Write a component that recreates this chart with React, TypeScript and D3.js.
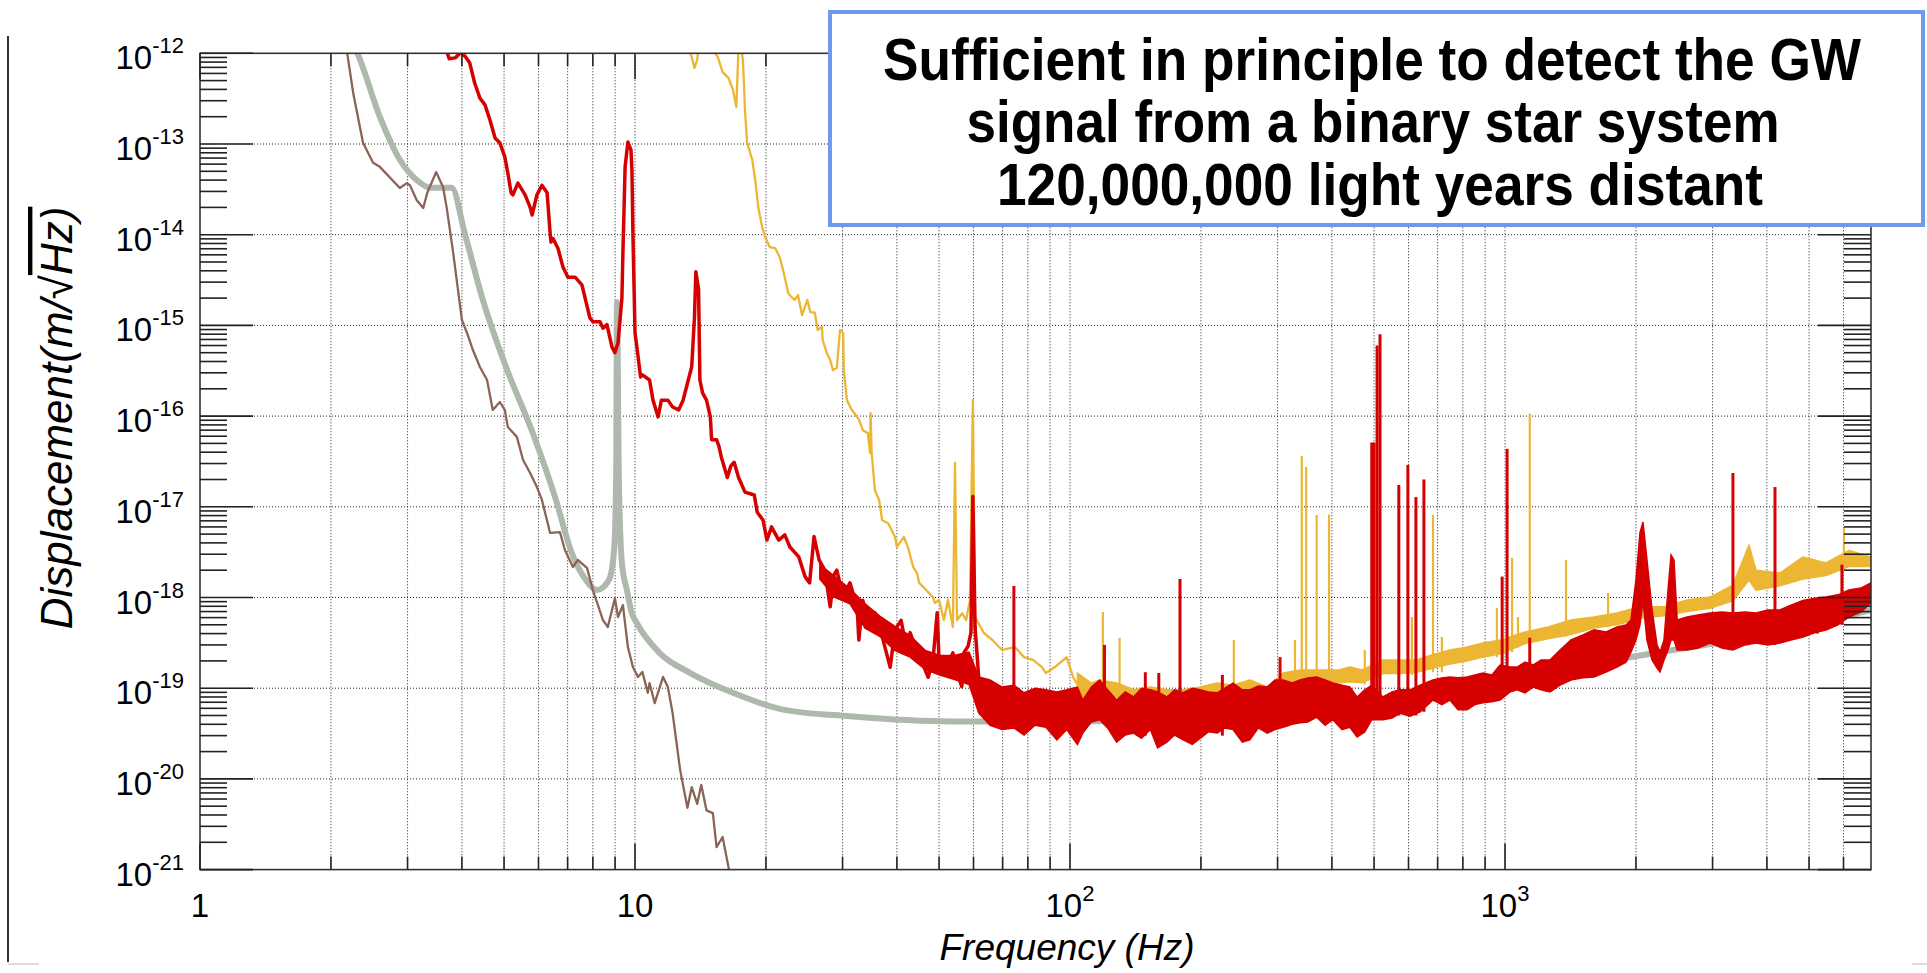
import React from "react";
import * as d3 from "d3";

const width = 1927;
const height = 973;
const plot = { left: 200, right: 1871, top: 53.3, bottom: 869.6 };
const freqDomain = [1, 6940];
const dispDomain = [1e-21, 1e-12];
const font = "'Liberation Sans', Arial, Helvetica, sans-serif";

// [frequency (Hz), displacement (m/sqrt(Hz))]
const designCurve = [
  [2.2, 1.5e-12], [2.3, 1.0e-12], [2.59, 2.0e-13], [2.88, 6.7e-14], [3.15, 4.0e-14], [3.38, 3.3e-14],
  [3.79, 3.3e-14], [4.06, 1.04e-14], [4.47, 1.9e-15], [5.05, 3.5e-16], [5.82, 6.5e-17], [6.58, 1.19e-17],
  [7.12, 3.3e-18], [7.71, 1.56e-18], [8.18, 1.21e-18], [8.71, 1.56e-18], [8.95, 3.3e-18], [9.05, 2.0e-17],
  [9.09, 1.8e-15], [9.18, 2.0e-17], [9.33, 2.4e-18], [9.58, 1.21e-18], [9.83, 6.75e-19], [10.1, 5.2e-19],
  [11.4, 2.44e-19], [13.4, 1.47e-19], [16.8, 8.9e-20], [21.9, 5.8e-20], [31.2, 4.9e-20], [53.0, 4.3e-20],
  [88.0, 4.3e-20], [199, 4.7e-20], [505, 6.85e-20], [788, 9.5e-20], [1948, 2.2e-19], [4842, 4.73e-19],
  [6940, 7.3e-19],
];

const seismicCurve = [
  [2.1, 1.5e-12], [2.18, 1.0e-12], [2.25, 3.65e-13], [2.37, 1.03e-13], [2.5, 6.2e-14], [2.59, 5.6e-14],
  [2.88, 3.27e-14], [2.99, 3.7e-14], [3.04, 3.5e-14], [3.15, 2.4e-14], [3.26, 1.97e-14], [3.33, 2.9e-14],
  [3.49, 4.9e-14], [3.62, 3.36e-14], [3.69, 2.0e-14], [3.82, 6.3e-15], [3.9, 2.93e-15], [4.0, 1.15e-15],
  [4.11, 8.25e-16], [4.24, 5.35e-16], [4.4, 3.48e-16], [4.57, 2.5e-16], [4.71, 1.17e-16], [4.89, 1.43e-16],
  [5.02, 1.17e-16], [5.1, 7.6e-17], [5.35, 5.9e-17], [5.53, 3.28e-17], [5.74, 2.36e-17], [5.95, 1.65e-17],
  [6.11, 1.19e-17], [6.38, 5.15e-18], [6.72, 5.27e-18], [6.9, 3.34e-18], [7.2, 2.17e-18], [7.39, 2.6e-18],
  [7.76, 2.11e-18], [8.0, 1.21e-18], [8.44, 5.63e-19], [8.66, 4.73e-19], [8.99, 9.8e-19], [9.14, 6.1e-19],
  [9.38, 8.25e-19], [9.63, 2.84e-19], [9.89, 1.71e-19], [10.16, 1.33e-19], [10.4, 1.51e-19], [10.7, 8.9e-20],
  [10.8, 1.14e-19], [11.1, 6.85e-20], [11.6, 1.33e-19], [11.9, 1.03e-19], [12.2, 5.35e-20], [12.7, 1.25e-20],
  [13.2, 4.8e-21], [13.5, 8.1e-21], [13.9, 5.3e-21], [14.2, 8.6e-21], [14.6, 4.5e-21], [15.1, 4.2e-21],
  [15.4, 1.77e-21], [15.9, 2.29e-21], [16.4, 1.07e-21], [16.7, 7.8e-22],
];

const redLine = [
  [3.66, 1.2e-12], [3.74, 8.7e-13], [3.86, 8.9e-13], [3.98, 1.03e-12], [4.08, 9.1e-13], [4.17, 7.8e-13],
  [4.28, 4.7e-13], [4.4, 3.2e-13], [4.52, 2.7e-13], [4.64, 1.84e-13], [4.77, 1.16e-13], [4.89, 1.03e-13],
  [5.02, 7.2e-14], [5.1, 4.8e-14], [5.19, 2.9e-14], [5.24, 2.75e-14], [5.38, 3.7e-14], [5.59, 2.75e-14],
  [5.74, 2.0e-14], [5.8, 1.65e-14], [5.95, 2.75e-14], [6.11, 3.5e-14], [6.28, 2.9e-14], [6.38, 1.05e-14],
  [6.41, 8.3e-15], [6.48, 9.1e-15], [6.65, 7.1e-15], [6.83, 4.4e-15], [7.01, 3.4e-15], [7.28, 3.4e-15],
  [7.55, 2.8e-15], [7.88, 1.2e-15], [8.0, 1.1e-15], [8.31, 1.1e-15], [8.44, 9.3e-16], [8.62, 1.02e-15],
  [8.85, 5.8e-16], [8.99, 5.0e-16], [9.14, 6.4e-16], [9.33, 2.0e-15], [9.38, 6.3e-15], [9.49, 5.6e-14],
  [9.63, 1.05e-13], [9.79, 8.6e-14], [9.84, 5.1e-14], [9.89, 1.05e-14], [10.0, 8.3e-16], [10.1, 5.8e-16],
  [10.3, 2.7e-16], [10.4, 2.85e-16], [10.8, 2.5e-16], [11.0, 1.5e-16], [11.3, 9.8e-17], [11.5, 1.5e-16],
  [11.9, 1.5e-16], [12.2, 1.26e-16], [12.6, 1.17e-16], [12.9, 1.5e-16], [13.2, 2.3e-16], [13.5, 3.5e-16],
  [13.7, 1.23e-15], [13.8, 3.9e-15], [14.0, 2.5e-15], [14.1, 2.5e-16], [14.3, 1.8e-16], [14.6, 1.5e-16],
  [14.9, 9.8e-17], [15.0, 5.5e-17], [15.4, 5.5e-17], [15.6, 4.6e-17], [15.8, 3.5e-17], [16.3, 2.1e-17],
  [16.6, 2.8e-17], [16.9, 3.1e-17], [17.3, 2.1e-17], [17.9, 1.45e-17], [18.8, 1.35e-17], [19.1, 8.7e-18],
  [19.7, 7.1e-18], [20.1, 4.3e-18], [20.6, 6.0e-18], [21.4, 4.3e-18], [22.1, 4.9e-18], [22.7, 3.6e-18],
  [23.8, 2.8e-18], [24.6, 1.7e-18], [25.2, 1.45e-18], [25.8, 4.7e-18], [26.5, 2.6e-18], [27.3, 2.0e-18],
  [28.1, 7.9e-19], [28.7, 1.8e-18], [29.1, 2.0e-18], [30.1, 1.02e-18], [31.2, 1.45e-18], [32.4, 7.9e-19],
  [32.7, 3.4e-19], [33.4, 9.3e-19], [34.3, 5.6e-19], [35.6, 6.8e-19], [36.8, 4.1e-19], [38.6, 1.7e-19],
  [39.6, 4.4e-19], [40.9, 5.6e-19], [42.0, 2.9e-19], [42.9, 4.1e-19], [44.5, 2.45e-19], [46.2, 1.7e-19],
  [47.2, 1.32e-19], [48.4, 2.0e-19], [49.5, 6.8e-19], [50.0, 2.0e-19], [51.9, 1.7e-19], [53.8, 2.45e-19],
  [55.0, 1.48e-19], [56.4, 1.04e-19], [57.0, 2.45e-19], [58.3, 2.9e-19], [59.2, 4.1e-19], [59.8, 1.3e-17],
  [60.5, 4.7e-19], [61.8, 1.15e-19],
];

// [frequency, upper edge, lower edge] of the noisy part of the red trace
const redBand = [
  [26.6, 2.3e-18, 1.6e-18], [28.8, 1.7e-18, 1.0e-18], [31.2, 1.25e-18, 8.5e-19],
  [33.8, 8.5e-19, 4.6e-19], [36.6, 6.2e-19, 3.7e-19], [39.6, 4.8e-19, 2.6e-19], [42.9, 3.8e-19, 2.2e-19],
  [46.5, 2.6e-19, 1.6e-19], [50.2, 2.3e-19, 1.4e-19], [54.1, 2.3e-19, 1.25e-19], [58.6, 2.5e-19, 1.1e-19],
  [61.7, 1.33e-19, 5.3e-20], [65.5, 1.23e-19, 3.9e-20], [69.8, 1.03e-19, 3.5e-20], [74.3, 1.08e-19, 3.65e-20],
  [78.4, 8.9e-20, 3.05e-20], [83.1, 1.0e-19, 3.9e-20], [88.0, 9.6e-20, 3.7e-20], [93.3, 9.1e-20, 2.7e-20],
  [98.3, 9.6e-20, 3.5e-20], [104, 1.03e-19, 2.4e-20], [107, 7.4e-20, 3.2e-20], [112, 1.03e-19, 4.25e-20],
  [117, 1.23e-19, 4.5e-20], [122, 9.6e-20, 3.65e-20], [128, 7.4e-20, 2.55e-20], [134, 9.1e-20, 3.05e-20],
  [140, 8.0e-20, 3.2e-20], [146, 1.0e-19, 2.8e-20], [153, 9.6e-20, 3.5e-20], [159, 9.1e-20, 2.2e-20],
  [167, 8.0e-20, 2.55e-20], [174, 9.6e-20, 3.05e-20], [182, 8.9e-20, 2.7e-20], [191, 1.0e-19, 2.4e-20],
  [199, 9.6e-20, 2.8e-20], [208, 9.1e-20, 3.3e-20], [218, 8.9e-20, 3.2e-20], [227, 1.0e-19, 3.65e-20],
  [237, 1.14e-19, 3.5e-20], [249, 9.6e-20, 2.55e-20], [259, 9.6e-20, 2.7e-20], [271, 1.06e-19, 3.65e-20],
  [284, 1.03e-19, 3.2e-20], [296, 1.23e-19, 3.5e-20], [309, 1.23e-19, 3.7e-20], [324, 1.14e-19, 4.0e-20],
  [338, 1.23e-19, 4.15e-20], [352, 1.3e-19, 4.25e-20], [369, 1.33e-19, 4.8e-20], [386, 1.23e-19, 3.9e-20],
  [402, 1.14e-19, 4.5e-20], [422, 1.08e-19, 3.5e-20], [440, 1.03e-19, 3.7e-20], [457, 8.0e-20, 2.9e-20],
  [476, 9.6e-20, 3.3e-20], [494, 1.08e-19, 4.5e-20], [524, 8.0e-20, 4.5e-20], [550, 9.1e-20, 4.7e-20],
  [574, 9.6e-20, 5.3e-20], [605, 9.6e-20, 4.9e-20], [638, 1.08e-19, 5.5e-20], [683, 1.23e-19, 7.4e-20],
  [716, 1.3e-19, 6.6e-20], [747, 1.33e-19, 7.4e-20], [780, 1.3e-19, 5.8e-20], [818, 1.33e-19, 5.8e-20],
  [853, 1.4e-19, 6.6e-20], [890, 1.47e-19, 6.9e-20], [933, 1.4e-19, 7.1e-20], [974, 1.8e-19, 7.4e-20],
  [1027, 1.71e-19, 9.1e-20], [1066, 1.71e-19, 9.6e-20], [1112, 1.94e-19, 8.9e-20], [1160, 1.8e-19, 1.03e-19],
  [1210, 2.05e-19, 9.6e-20], [1269, 2.05e-19, 9.1e-20], [1338, 2.64e-19, 1.08e-19], [1418, 3.4e-19, 1.23e-19],
  [1511, 3.86e-19, 1.3e-19], [1602, 4.4e-19, 1.33e-19], [1707, 4.17e-19, 1.51e-19], [1809, 4.73e-19, 1.71e-19],
  [1897, 4.98e-19, 1.94e-19], [1948, 5.64e-19, 2.5e-19], [2000, 1.56e-18, 3.4e-19], [2043, 5.2e-18, 4.98e-19],
  [2076, 6.8e-18, 9.3e-19], [2120, 2.6e-18, 3.4e-19], [2178, 7.3e-19, 2.05e-19], [2236, 3.0e-19, 1.67e-19],
  [2272, 2.5e-19, 1.51e-19], [2320, 3.4e-19, 2.05e-19], [2370, 1.21e-18, 2.64e-19], [2408, 2.94e-18, 3.4e-19],
  [2446, 2.6e-18, 3.4e-19], [2488, 5.64e-19, 2.64e-19], [2621, 6.1e-19, 2.64e-19], [2778, 6.4e-19, 2.78e-19],
  [2960, 6.75e-19, 3.15e-19], [3153, 6.9e-19, 2.78e-19], [3342, 6.75e-19, 2.64e-19], [3562, 6.9e-19, 3.0e-19],
  [3776, 6.75e-19, 3.15e-19], [4021, 7.3e-19, 3.0e-19], [4285, 7.3e-19, 3.15e-19], [4543, 8.25e-19, 3.4e-19],
  [4842, 9.3e-19, 3.67e-19], [5159, 9.8e-19, 4.1e-19], [5468, 1.01e-18, 4.39e-19], [5826, 1.07e-18, 4.98e-19],
  [6177, 1.21e-18, 6.1e-19], [6578, 1.27e-18, 6.9e-19], [6940, 1.45e-18, 8.7e-19],
];

// [frequency, foot, tip] narrow lines of the red trace
const redSpikes = [
  [74.3, 4e-20, 1.34e-18], [120, 4e-20, 3.0e-19], [149, 3e-20, 1.5e-19], [160, 3e-20, 1.47e-19],
  [179, 3e-20, 1.6e-18], [224, 3e-20, 1.4e-19], [304, 4e-20, 2.2e-19], [494, 4.5e-20, 5.1e-17],
  [500, 4.5e-20, 5.1e-17], [508, 4.5e-20, 6.0e-16], [516, 4.5e-20, 8.0e-16], [570, 5e-20, 1.74e-17],
  [598, 5e-20, 2.9e-17], [624, 5e-20, 1.28e-17], [651, 5.5e-20, 2.0e-17], [985, 8e-20, 1.7e-18],
  [1011, 9e-20, 4.35e-17], [1140, 1e-19, 3.6e-19], [3342, 3e-19, 2.36e-17], [4175, 3e-19, 1.65e-17],
  [5220, 4e-19, 9.8e-19], [5950, 5e-19, 2.3e-18],
];

const orangeLine = [
  [13.2, 1.2e-12], [13.5, 9.1e-13], [13.7, 6.9e-13], [13.9, 8.5e-13], [14.0, 1.2e-12], [15.0, 1.2e-12],
  [15.3, 1.0e-12], [15.5, 9.1e-13], [15.9, 6.2e-13], [16.4, 5.35e-13], [16.8, 3.94e-13], [17.1, 2.56e-13],
  [17.2, 5.5e-13], [17.3, 1.2e-12], [17.5, 1.2e-12], [17.7, 8.5e-13], [17.8, 4.7e-13], [17.9, 2.37e-13],
  [18.1, 1.03e-13], [18.6, 6.7e-14], [18.9, 4.0e-14], [19.2, 2.02e-14], [19.6, 1.22e-14], [19.9, 9.5e-15],
  [20.4, 7.3e-15], [21.0, 7.1e-15], [21.5, 5.7e-15], [21.9, 4.08e-15], [22.5, 2.28e-15], [22.9, 2.05e-15],
  [23.3, 1.91e-15], [23.7, 2.16e-15], [24.2, 1.3e-15], [24.9, 1.91e-15], [25.3, 1.4e-15], [25.9, 1.38e-15],
  [26.3, 8.9e-16], [26.9, 9.6e-16], [27.0, 6.9e-16], [27.6, 4.96e-16], [28.1, 4.15e-16], [28.5, 3.22e-16],
  [29.1, 3.39e-16], [29.6, 8.9e-16], [30.1, 8.25e-16], [30.2, 3.22e-16], [30.7, 1.5e-16], [31.5, 1.17e-16],
  [31.9, 1.08e-16], [32.7, 9.2e-17], [33.4, 7.0e-17], [34.3, 6.5e-17], [34.7, 3.92e-17], [34.8, 1.08e-16],
  [35.0, 3.92e-17], [35.6, 1.53e-17], [36.4, 1.19e-17], [37.0, 7.1e-18], [38.2, 6.6e-18], [39.6, 4.65e-18],
  [40.0, 3.6e-18], [41.5, 4.65e-18], [42.4, 3.6e-18], [43.6, 2.17e-18], [44.5, 1.86e-18], [45.0, 1.45e-18],
  [46.7, 1.21e-18], [48.4, 1.01e-18], [48.9, 8.7e-19], [50.0, 9.4e-19], [51.3, 5.64e-19], [52.4, 9.4e-19],
  [53.8, 4.73e-19], [54.4, 3.04e-17], [55.0, 5.64e-19], [56.5, 6.7e-19], [57.7, 5.64e-19], [58.9, 9.4e-19],
  [59.8, 1.5e-16], [60.5, 6.1e-19], [63.4, 4.06e-19], [66.3, 3.4e-19], [69.8, 2.64e-19], [74.7, 2.84e-19],
  [78.4, 2.2e-19], [82.2, 2.05e-19], [86.2, 1.71e-19], [88.0, 1.47e-19], [92.3, 1.71e-19], [98.3, 2.2e-19],
  [101.6, 1.33e-19], [104, 1.1e-19],
];

const orangeBand = [
  [104, 1.47e-19, 8.0e-20], [112, 1.14e-19, 7.4e-20], [117, 1.23e-19, 8.0e-20], [128, 1.14e-19, 8.0e-20],
  [140, 9.6e-20, 7.0e-20], [153, 1.03e-19, 7.0e-20], [167, 9.6e-20, 7.0e-20], [182, 9.6e-20, 6.8e-20],
  [199, 1.03e-19, 7.0e-20], [218, 1.14e-19, 8.0e-20], [237, 1.08e-19, 8.0e-20], [259, 1.23e-19, 8.6e-20],
  [284, 1.03e-19, 8.0e-20], [309, 1.47e-19, 9.6e-20], [338, 1.59e-19, 1.05e-19], [375, 1.59e-19, 1.1e-19],
  [415, 1.59e-19, 1.15e-19], [440, 1.71e-19, 1.18e-19], [469, 1.59e-19, 1.15e-19], [524, 2.05e-19, 1.45e-19],
  [574, 2.05e-19, 1.45e-19], [627, 2.05e-19, 1.5e-19], [678, 2.32e-19, 1.65e-19], [747, 2.64e-19, 1.85e-19],
  [818, 2.84e-19, 2.0e-19], [890, 3.15e-19, 2.2e-19], [978, 3.4e-19, 2.4e-19], [1112, 4.17e-19, 3.1e-19],
  [1256, 4.73e-19, 3.5e-19], [1418, 5.64e-19, 3.9e-19], [1602, 6.1e-19, 4.6e-19], [1809, 6.75e-19, 5.0e-19],
  [2043, 7.9e-19, 5.9e-19], [2320, 7.9e-19, 6.3e-19], [2621, 9.4e-19, 7.0e-19], [2960, 1.01e-18, 7.6e-19],
  [3342, 1.37e-18, 9.2e-19], [3638, 3.8e-18, 1.56e-18], [3776, 2.0e-18, 1.2e-18], [4285, 1.86e-18, 1.35e-18],
  [4842, 2.8e-18, 1.6e-18], [5468, 2.4e-18, 1.75e-18], [6177, 3.3e-18, 2.2e-18], [6940, 2.8e-18, 2.2e-18],
];

const orangeSpikes = [
  [119, 7e-20, 6.9e-19], [130, 7e-20, 3.6e-19], [238, 7e-20, 3.4e-19], [329, 9e-20, 3.4e-19],
  [341, 9e-20, 3.64e-17], [349, 9e-20, 2.75e-17], [369, 1e-19, 8.1e-18], [394, 1e-19, 8.2e-18],
  [476, 1.1e-19, 2.64e-19], [611, 1.4e-19, 6.1e-19], [683, 1.5e-19, 8.1e-18], [716, 1.5e-19, 3.67e-19],
  [958, 2.2e-19, 7.7e-19], [1038, 2.5e-19, 2.73e-18], [1071, 2.8e-19, 6.1e-19], [1140, 3e-19, 1.07e-16],
  [1381, 3.7e-19, 2.6e-18], [1726, 4.7e-19, 1.12e-18], [6013, 2.2e-18, 5.8e-18],
];

const xTickLabels = [
  { value: 1, base: "1", sup: "" },
  { value: 10, base: "10", sup: "" },
  { value: 100, base: "10", sup: "2" },
  { value: 1000, base: "10", sup: "3" },
];
const yDecades = [-12, -13, -14, -15, -16, -17, -18, -19, -20, -21];
const boxLines = [
  { text: "Sufficient in principle to detect the GW", cx: 1372, y: 80, len: 978 },
  { text: "signal from a binary star system", cx: 1373, y: 142, len: 813 },
  { text: "120,000,000 light years distant", cx: 1380, y: 205, len: 766 },
];

const colors = { design: "#afb8ad", seismic: "#8c6455", red: "#d60000", orange: "#ecb633" };

export default function App() {
  const x = d3.scaleLog().domain(freqDomain).range([plot.left, plot.right]);
  const y = d3.scaleLog().domain(dispDomain).range([plot.bottom, plot.top]);

  const line = d3.line<number[]>().x((d) => x(d[0])).y((d) => y(d[1]));
  const smooth = d3
    .line<number[]>()
    .x((d) => x(d[0]))
    .y((d) => y(d[1]))
    .curve(d3.curveMonotoneX);
  const band = d3
    .area<number[]>()
    .x((d) => x(d[0]))
    .y0((d) => y(d[2]))
    .y1((d) => y(d[1]));

  const xTicks: number[] = [];
  for (let k = 0; k <= 3; k++)
    for (let m = 1; m <= 9; m++) {
      const v = m * Math.pow(10, k);
      if (v <= freqDomain[1]) xTicks.push(v);
    }
  const yTicks: number[] = [];
  for (let e = -21; e < -12; e++) for (let m = 1; m <= 9; m++) yTicks.push(m * Math.pow(10, e));
  yTicks.push(1e-12);
  const isDecade = (v: number) => Math.abs(Math.log10(v) - Math.round(Math.log10(v))) < 1e-6;

  return (
    <svg
      width={width}
      height={height}
      style={{ position: "absolute", left: 0, top: 0, display: "block", background: "#fff" }}
      fontFamily={font}
    >
      <defs>
        <clipPath id="plotClip">
          <rect x={plot.left} y={plot.top} width={plot.right - plot.left} height={plot.bottom - plot.top} />
        </clipPath>
      </defs>
      <rect width={width} height={height} fill="#fff" />

      {/* grid */}
      <g stroke="#222" strokeWidth={1} strokeDasharray="1,2">
        {xTicks.filter((v) => v > 1).map((v) => (
          <line key={"gx" + v} x1={x(v)} x2={x(v)} y1={plot.top} y2={plot.bottom} />
        ))}
        {yDecades.slice(1, -1).map((e) => (
          <line key={"gy" + e} x1={plot.left} x2={plot.right} y1={y(Math.pow(10, e))} y2={y(Math.pow(10, e))} />
        ))}
      </g>

      <g clipPath="url(#plotClip)" fill="none" strokeLinejoin="round">
        <path d={smooth(designCurve) || ""} stroke={colors.design} strokeWidth={6} />
        <path d={line(seismicCurve) || ""} stroke={colors.seismic} strokeWidth={2.3} />

        <path d={band(orangeBand) || ""} fill={colors.orange} stroke={colors.orange} strokeWidth={1.5} />
        {orangeSpikes.map((s) => (
          <line key={"os" + s[0]} x1={x(s[0])} x2={x(s[0])} y1={y(s[1])} y2={y(s[2])} stroke={colors.orange} strokeWidth={2.2} />
        ))}
        <path d={line(orangeLine) || ""} stroke={colors.orange} strokeWidth={2.3} />

        <path d={band(redBand) || ""} fill={colors.red} stroke={colors.red} strokeWidth={1.5} strokeLinejoin="miter" />
        {redSpikes.map((s) => (
          <line key={"rs" + s[0]} x1={x(s[0])} x2={x(s[0])} y1={y(s[1])} y2={y(s[2])} stroke={colors.red} strokeWidth={3} />
        ))}
        <path d={line(redLine) || ""} stroke={colors.red} strokeWidth={3.5} />
      </g>

      {/* frame */}
      <rect
        x={plot.left}
        y={plot.top}
        width={plot.right - plot.left}
        height={plot.bottom - plot.top}
        fill="none"
        stroke="#333"
        strokeWidth={1.6}
      />

      {/* ticks */}
      <g stroke="#222" strokeWidth={1.6}>
        {yTicks.map((v) => {
          const len = isDecade(v) ? 53 : 27;
          return (
            <g key={"yt" + v}>
              <line x1={plot.left} x2={plot.left + len} y1={y(v)} y2={y(v)} />
              <line x1={plot.right} x2={plot.right - len} y1={y(v)} y2={y(v)} />
            </g>
          );
        })}
        {xTicks.map((v) => {
          const len = isDecade(v) ? 26 : 13;
          return (
            <g key={"xt" + v}>
              <line x1={x(v)} x2={x(v)} y1={plot.bottom} y2={plot.bottom - len} />
              <line x1={x(v)} x2={x(v)} y1={plot.top} y2={plot.top + len} />
            </g>
          );
        })}
      </g>

      {/* tick labels */}
      <g fill="#000">
        {yDecades.map((e) => (
          <text key={"yl" + e} x={184} y={y(Math.pow(10, e)) + 16} textAnchor="end" fontSize={33}>
            10
            <tspan fontSize={22} dy={-16}>{String(e)}</tspan>
          </text>
        ))}
        {xTickLabels.map((t) => (
          <text key={"xl" + t.value} x={x(t.value)} y={917} textAnchor="middle" fontSize={33}>
            {t.base}
            {t.sup ? <tspan fontSize={22} dy={-16}>{t.sup}</tspan> : null}
          </text>
        ))}
      </g>

      {/* axis titles */}
      <text x={1067} y={960} textAnchor="middle" fontSize={37} fontStyle="italic">
        Frequency (Hz)
      </text>
      <text transform="translate(72,418) rotate(-90)" textAnchor="middle" fontSize={44} fontStyle="italic">
        Displacement(m/√
        <tspan style={{ textDecoration: "overline" }}>Hz)</tspan>
      </text>

      {/* slide edge marks */}
      <line x1={8} x2={8} y1={36} y2={962} stroke="#000" strokeWidth={1.6} />
      <line x1={8} x2={39} y1={964} y2={964} stroke="#ddd" strokeWidth={2} />
      <line x1={1912} x2={1927} y1={964} y2={964} stroke="#ddd" strokeWidth={2} />

      {/* annotation box */}
      <rect x={830} y={12} width={1093} height={213} fill="#fff" stroke="#6d9be9" strokeWidth={4} />
      {boxLines.map((l) => (
        <text
          key={l.text}
          transform={`translate(${l.cx},${l.y}) scale(1,1.1)`}
          textAnchor="middle"
          fontSize={54}
          fontWeight="bold"
          textLength={l.len}
          lengthAdjust="spacingAndGlyphs"
        >
          {l.text}
        </text>
      ))}
    </svg>
  );
}
